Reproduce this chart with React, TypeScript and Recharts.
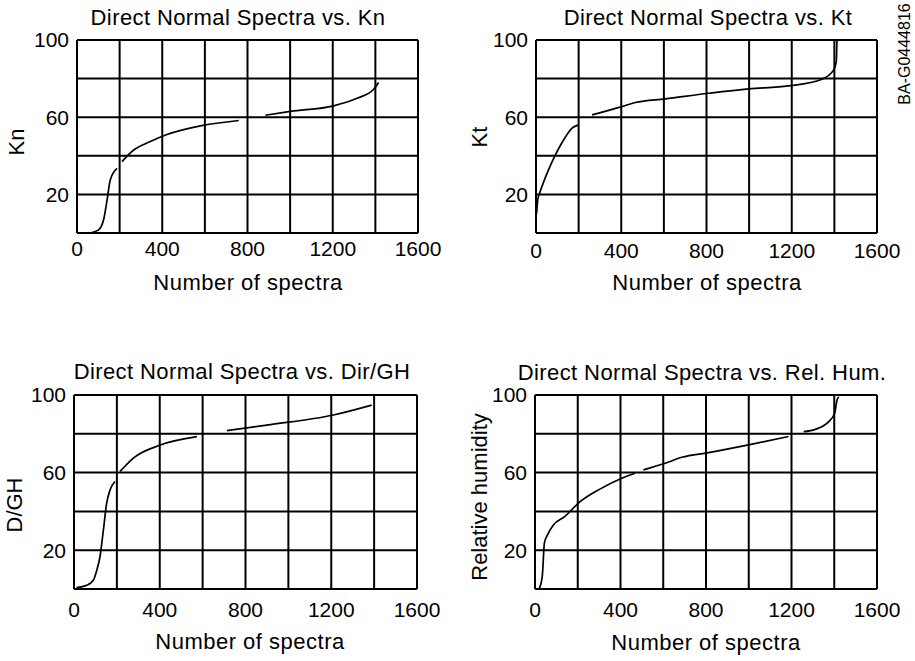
import React from 'react';
import { LineChart, Line, XAxis, YAxis, ReferenceLine } from 'recharts';

// Sorted spectra counts vs. each atmospheric parameter (null = gap in the trace)
const knSeries = [
  { n: 60, v: 0 }, { n: 100, v: 1.5 }, { n: 125, v: 7 }, { n: 141, v: 17 },
  { n: 156, v: 27.5 }, { n: 188, v: 33.5 }, { n: 195, v: null },
  { n: 211, v: 37 }, { n: 266, v: 43 }, { n: 344, v: 47.4 }, { n: 422, v: 51 },
  { n: 579, v: 55.5 }, { n: 759, v: 58.3 }, { n: 820, v: null },
  { n: 884, v: 61 }, { n: 1001, v: 63 }, { n: 1204, v: 65.9 }, { n: 1314, v: 69.8 },
  { n: 1392, v: 74.5 }, { n: 1415, v: 78 },
];

const ktSeries = [
  { n: 3, v: 10 }, { n: 8, v: 17 }, { n: 20, v: 21.6 }, { n: 31, v: 25 },
  { n: 59, v: 32.8 }, { n: 91, v: 40.5 }, { n: 130, v: 48.3 }, { n: 169, v: 54.3 },
  { n: 200, v: 56 }, { n: 230, v: null },
  { n: 263, v: 61.2 }, { n: 403, v: 65.5 }, { n: 466, v: 67.6 }, { n: 607, v: 69.5 },
  { n: 810, v: 72.4 }, { n: 998, v: 74.7 }, { n: 1185, v: 76.2 }, { n: 1342, v: 79.7 },
  { n: 1397, v: 84.5 }, { n: 1409, v: 88.8 }, { n: 1412, v: 100 },
];

const dghSeries = [
  { n: 12, v: 0.7 }, { n: 59, v: 1.9 }, { n: 90, v: 4.5 }, { n: 106, v: 9.6 },
  { n: 121, v: 16.5 }, { n: 137, v: 30.3 }, { n: 152, v: 44 }, { n: 168, v: 51 },
  { n: 191, v: 55.4 }, { n: 200, v: null },
  { n: 215, v: 60.6 }, { n: 277, v: 67.5 }, { n: 403, v: 74.2 }, { n: 573, v: 78.5 },
  { n: 640, v: null },
  { n: 713, v: 81.6 }, { n: 899, v: 84.5 }, { n: 1210, v: 89.7 }, { n: 1389, v: 94.8 },
];

const rhSeries = [
  { n: 19, v: 0 }, { n: 34, v: 6.5 }, { n: 44, v: 23.7 }, { n: 59, v: 28 },
  { n: 86, v: 33 }, { n: 140, v: 37.4 }, { n: 203, v: 44.3 }, { n: 297, v: 51.1 },
  { n: 406, v: 57.1 }, { n: 468, v: 59.7 }, { n: 490, v: null },
  { n: 507, v: 61.4 }, { n: 609, v: 64.8 }, { n: 687, v: 67.9 }, { n: 812, v: 70.3 },
  { n: 999, v: 74.3 }, { n: 1186, v: 78.6 }, { n: 1220, v: null },
  { n: 1257, v: 81.1 }, { n: 1311, v: 82.3 }, { n: 1374, v: 86.3 }, { n: 1402, v: 90.6 },
  { n: 1413, v: 97.4 }, { n: 1421, v: 99.1 },
];

const xTicks = [0, 400, 800, 1200, 1600];
const yTicks = [20, 60, 100];
const gridX = [200, 400, 600, 800, 1000, 1200, 1400, 1600];
const gridY = [20, 40, 60, 80, 100];

const W = 460;
const H = 330;
const FONT = '"Liberation Sans", Arial, Helvetica, sans-serif';

type Panel = {
  title: string;
  yLabel: string;
  data: { n: number; v: number | null }[];
  left: number;
  top: number;
  plot: { x0: number; x1: number; y0: number; y1: number };
  tickGap: number;
  titleAt: [number, number];
  xLabelAt: [number, number];
  yLabelAt: [number, number];
};

const panels: Panel[] = [
  {
    title: 'Direct Normal Spectra vs. Kn', yLabel: 'Kn', data: knSeries,
    left: 0, top: 0, plot: { x0: 77, x1: 418, y0: 40, y1: 233 }, tickGap: 8,
    titleAt: [238, 18], xLabelAt: [248, 283], yLabelAt: [17, 142],
  },
  {
    title: 'Direct Normal Spectra vs. Kt', yLabel: 'Kt', data: ktSeries,
    left: 455, top: 0, plot: { x0: 81, x1: 422, y0: 40, y1: 233 }, tickGap: 10,
    titleAt: [708, 18], xLabelAt: [707, 283], yLabelAt: [480, 137],
  },
  {
    title: 'Direct Normal Spectra vs. Dir/GH', yLabel: 'D/GH', data: dghSeries,
    left: 0, top: 330, plot: { x0: 74, x1: 417, y0: 65, y1: 259 }, tickGap: 13,
    titleAt: [242, 372], xLabelAt: [250, 642], yLabelAt: [15, 505],
  },
  {
    title: 'Direct Normal Spectra vs. Rel. Hum.', yLabel: 'Relative humidity', data: rhSeries,
    left: 455, top: 330, plot: { x0: 80, x1: 422, y0: 65, y1: 259 }, tickGap: 13,
    titleAt: [702, 373], xLabelAt: [706, 643], yLabelAt: [480, 497],
  },
];

const textStyle = (x: number, y: number, size: number, spacing = 0, rotate = false): React.CSSProperties => ({
  position: 'absolute',
  left: x,
  top: y,
  transform: `translate(-50%, -50%)${rotate ? ' rotate(-90deg)' : ''}`,
  fontFamily: FONT,
  fontSize: size,
  letterSpacing: spacing,
  lineHeight: 1,
  whiteSpace: 'nowrap',
  color: '#000',
});

function SpectraPanel({ p }: { p: Panel }) {
  const { x0, x1, y0, y1 } = p.plot;
  return (
    <div style={{ position: 'absolute', left: p.left, top: p.top }}>
      <LineChart
        width={W}
        height={H}
        data={p.data}
        margin={{ top: y0, right: W - x1, bottom: 0, left: 0 }}
        style={{ fontFamily: FONT }}
      >
        <XAxis
          dataKey='n'
          type='number'
          domain={[0, 1600]}
          ticks={xTicks}
          interval={0}
          height={H - y1}
          tickSize={0}
          tickMargin={p.tickGap}
          axisLine={{ stroke: '#000', strokeWidth: 2 }}
          tick={{ fill: '#000', fontSize: 21 }}
        />
        <YAxis
          type='number'
          domain={[0, 100]}
          ticks={yTicks}
          interval={0}
          width={x0}
          tickSize={0}
          tickMargin={8}
          axisLine={{ stroke: '#000', strokeWidth: 2 }}
          tick={{ fill: '#000', fontSize: 21 }}
        />
        {gridX.map((x) => (
          <ReferenceLine key={'x' + x} x={x} stroke='#000' strokeWidth={2} />
        ))}
        {gridY.map((y) => (
          <ReferenceLine key={'y' + y} y={y} stroke='#000' strokeWidth={2} />
        ))}
        <Line
          dataKey='v'
          type='monotone'
          stroke='#000'
          strokeWidth={1.7}
          dot={false}
          connectNulls={false}
          isAnimationActive={false}
        />
      </LineChart>
    </div>
  );
}

export default function App() {
  return (
    <div style={{ position: 'absolute', left: 0, top: 0, width: 915, height: 661, background: '#fff', overflow: 'hidden' }}>
      {panels.map((p) => (
        <SpectraPanel key={p.title} p={p} />
      ))}
      {panels.map((p) => (
        <React.Fragment key={'t' + p.title}>
          <div style={textStyle(p.titleAt[0], p.titleAt[1], 22, 0.4)}>{p.title}</div>
          <div style={textStyle(p.xLabelAt[0], p.xLabelAt[1], 22, 0.5)}>Number of spectra</div>
          <div style={textStyle(p.yLabelAt[0], p.yLabelAt[1], 22, 0, true)}>{p.yLabel}</div>
        </React.Fragment>
      ))}
      <div style={textStyle(905, 54, 16, 0, true)}>BA-G0444816</div>
    </div>
  );
}
